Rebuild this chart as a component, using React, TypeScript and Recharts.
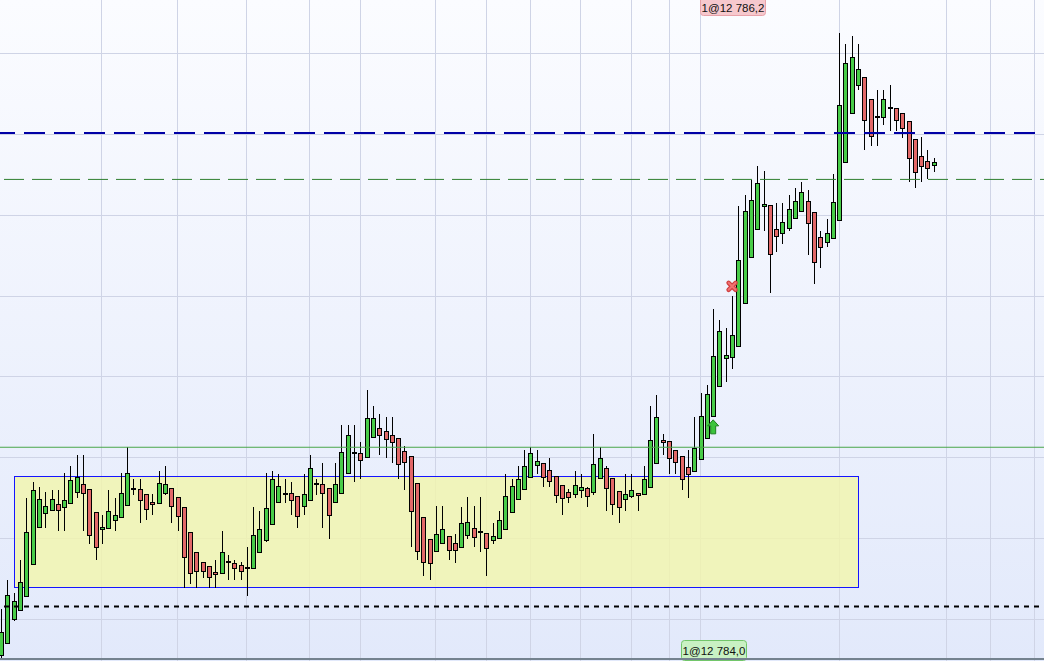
import React from 'react';
import {
  Bar,
  ComposedChart,
  ReferenceArea,
  ReferenceDot,
  ReferenceLine,
  XAxis,
  YAxis,
} from 'recharts';

// Intraday candles, prices given as offsets above 12 784,00.
const BASE = 12784;

const OPEN = [
  0.142, 0.178, 0.252, 0.28, 0.323, 0.422, 0.536, 0.579, 0.589, 0.607,
  0.598, 0.61, 0.644, 0.669, 0.653, 0.582, 0.53, 0.533, 0.558, 0.567,
  0.604, 0.653, 0.653, 0.638, 0.613, 0.61, 0.641, 0.656, 0.629, 0.598,
  0.521, 0.459, 0.428, 0.416, 0.397, 0.394, 0.428, 0.425, 0.419, 0.41,
  0.41, 0.459, 0.496, 0.545, 0.613, 0.64, 0.641, 0.632, 0.601, 0.619,
  0.669, 0.669, 0.656, 0.613, 0.641, 0.703, 0.765, 0.765, 0.752, 0.814,
  0.842, 0.832, 0.82, 0.811, 0.771, 0.755, 0.672, 0.567, 0.499, 0.462,
  0.487, 0.508, 0.487, 0.474, 0.511, 0.533, 0.521, 0.518, 0.496, 0.502,
  0.53, 0.582, 0.623, 0.653, 0.69, 0.727, 0.734, 0.712, 0.694, 0.666,
  0.644, 0.638, 0.65, 0.656, 0.644, 0.687, 0.718, 0.687, 0.647, 0.623,
  0.632, 0.641, 0.638, 0.66, 0.734, 0.805, 0.802, 0.774, 0.755, 0.721,
  0.709, 0.746, 0.811, 0.879, 0.971, 1.058, 1.061, 1.095, 1.227, 1.369,
  1.456, 1.527, 1.53, 1.456, 1.444, 1.459, 1.49, 1.514, 1.542, 1.508,
  1.431, 1.416, 1.428, 1.484, 1.663, 1.814, 1.9, 1.925, 1.857, 1.803,
  1.802, 1.829, 1.832, 1.814, 1.789, 1.734, 1.681, 1.666, 1.656,
];

const HIGH = [
  0.284, 0.373, 0.332, 0.435, 0.626, 0.675, 0.66, 0.644, 0.65, 0.65,
  0.703, 0.724, 0.758, 0.758, 0.653, 0.582, 0.573, 0.65, 0.626, 0.703,
  0.783, 0.684, 0.684, 0.638, 0.638, 0.709, 0.724, 0.656, 0.629, 0.598,
  0.521, 0.459, 0.428, 0.416, 0.434, 0.524, 0.45, 0.434, 0.428, 0.474,
  0.6, 0.587, 0.702, 0.711, 0.7, 0.684, 0.675, 0.632, 0.7, 0.758,
  0.684, 0.734, 0.656, 0.734, 0.851, 0.851, 0.851, 0.798, 0.959, 0.91,
  0.885, 0.876, 0.876, 0.811, 0.786, 0.755, 0.672, 0.567, 0.499, 0.601,
  0.601, 0.508, 0.514, 0.598, 0.629, 0.601, 0.629, 0.518, 0.548, 0.585,
  0.7, 0.684, 0.724, 0.774, 0.783, 0.774, 0.734, 0.749, 0.694, 0.666,
  0.653, 0.709, 0.7, 0.66, 0.823, 0.783, 0.724, 0.687, 0.647, 0.7,
  0.7, 0.641, 0.724, 0.91, 0.944, 0.823, 0.802, 0.774, 0.755, 0.774,
  0.876, 0.95, 0.974, 1.21, 1.175, 1.15, 1.249, 1.527, 1.561, 1.607,
  1.65, 1.635, 1.53, 1.536, 1.536, 1.561, 1.585, 1.601, 1.576, 1.508,
  1.45, 1.487, 1.626, 2.061, 2.027, 2.052, 2.027, 1.925, 1.857, 1.885,
  1.885, 1.9, 1.832, 1.814, 1.789, 1.734, 1.74, 1.7, 1.675,
];

const LOW = [
  0.133, 0.178, 0.248, 0.28, 0.323, 0.422, 0.536, 0.533, 0.585, 0.524,
  0.524, 0.61, 0.626, 0.524, 0.484, 0.434, 0.484, 0.533, 0.524, 0.567,
  0.604, 0.635, 0.548, 0.558, 0.573, 0.61, 0.635, 0.548, 0.524, 0.348,
  0.36, 0.348, 0.379, 0.348, 0.348, 0.394, 0.373, 0.373, 0.373, 0.323,
  0.41, 0.459, 0.489, 0.545, 0.613, 0.61, 0.573, 0.533, 0.573, 0.619,
  0.635, 0.533, 0.499, 0.61, 0.641, 0.703, 0.675, 0.684, 0.752, 0.814,
  0.758, 0.749, 0.734, 0.684, 0.65, 0.474, 0.434, 0.385, 0.373, 0.462,
  0.484, 0.434, 0.425, 0.474, 0.499, 0.474, 0.459, 0.385, 0.484, 0.502,
  0.53, 0.582, 0.623, 0.653, 0.69, 0.7, 0.66, 0.66, 0.61, 0.573,
  0.61, 0.626, 0.626, 0.598, 0.635, 0.687, 0.585, 0.573, 0.548, 0.585,
  0.626, 0.585, 0.638, 0.66, 0.734, 0.758, 0.7, 0.7, 0.65, 0.626,
  0.709, 0.746, 0.811, 0.879, 0.971, 0.984, 1.024, 1.095, 1.227, 1.369,
  1.456, 1.45, 1.26, 1.385, 1.41, 1.45, 1.487, 1.514, 1.376, 1.286,
  1.335, 1.4, 1.425, 1.484, 1.663, 1.814, 1.885, 1.7, 1.712, 1.712,
  1.777, 1.761, 1.761, 1.737, 1.601, 1.585, 1.601, 1.61, 1.632,
];

const CLOSE = [
  0.214, 0.327, 0.308, 0.366, 0.521, 0.65, 0.623, 0.601, 0.623, 0.589,
  0.619, 0.681, 0.69, 0.641, 0.511, 0.474, 0.536, 0.585, 0.573, 0.641,
  0.703, 0.653, 0.619, 0.592, 0.607, 0.672, 0.669, 0.601, 0.57, 0.444,
  0.394, 0.4, 0.4, 0.382, 0.391, 0.459, 0.428, 0.41, 0.4, 0.41,
  0.511, 0.53, 0.595, 0.684, 0.663, 0.64, 0.619, 0.57, 0.638, 0.718,
  0.669, 0.641, 0.573, 0.669, 0.768, 0.82, 0.765, 0.743, 0.873, 0.873,
  0.82, 0.808, 0.798, 0.731, 0.737, 0.585, 0.462, 0.428, 0.425, 0.514,
  0.53, 0.465, 0.465, 0.548, 0.552, 0.505, 0.521, 0.471, 0.508, 0.558,
  0.632, 0.663, 0.684, 0.724, 0.765, 0.74, 0.69, 0.678, 0.635, 0.626,
  0.629, 0.666, 0.66, 0.632, 0.731, 0.749, 0.656, 0.607, 0.598, 0.638,
  0.65, 0.635, 0.684, 0.805, 0.876, 0.798, 0.749, 0.737, 0.684, 0.7,
  0.78, 0.879, 0.947, 1.064, 1.141, 1.067, 1.129, 1.36, 1.511, 1.545,
  1.598, 1.533, 1.379, 1.434, 1.477, 1.518, 1.542, 1.57, 1.474, 1.354,
  1.4, 1.444, 1.539, 1.839, 1.968, 1.987, 1.95, 1.792, 1.743, 1.803,
  1.857, 1.835, 1.792, 1.768, 1.675, 1.632, 1.65, 1.644, 1.663,
];

// total bar slots on screen (the right part is still empty)
const SLOTS = 166;
// bars where a time separator is drawn
const GRID_X = [16, 28, 39, 49, 57, 69, 77, 84, 92, 100, 106, 111, 133, 150, 157, 164];
const GRID_Y = [12784.25, 12784.5, 12784.75, 12785, 12785.25, 12785.5, 12785.75, 12786];
const Y_MIN = 12784.123;
const Y_MAX = 12786.164;

// consolidation box: from bar / to bar, low / high
const ZONE_BARS = [2, 136];
const ZONE_PRICES = [12784.352, 12784.693];

const LEVEL_SUPPORT = 12784.783;
const LEVEL_TARGET = 12785.61;
const LEVEL_RESIST = 12785.753;
const LEVEL_STOP = 12784.291;

const BUY_BAR = 113;
const BUY_MARK = 12784.846;
const BUY_TEXT = '1@12 784,0';
const SELL_BAR = 116;
const SELL_MARK = 12785.28;
const SELL_TEXT = '1@12 786,2';

const rows = Array.from({ length: SLOTS }, (_, i) =>
  i < OPEN.length
    ? { i, o: BASE + OPEN[i], h: BASE + HIGH[i], l: BASE + LOW[i], c: BASE + CLOSE[i] }
    : { i },
);

const UP = '#48cc48';
const DOWN = '#e26868';
const FONT = '"Liberation Sans", Arial, sans-serif';

function Candle(props: any) {
  const { x, y, width, height, payload } = props;
  if (!payload || payload.o == null || !Number.isFinite(y) || !Number.isFinite(height)) return <g />;
  const { o, h, l, c } = payload;
  const top = Math.min(y, y + height);
  const bottom = Math.max(y, y + height);
  const py = (v: number) => (h === l ? top : top + ((h - v) / (h - l)) * (bottom - top));
  const wx = Math.round(x + width / 2) + 0.5;
  const yo = Math.round(py(o));
  const yc = Math.round(py(c));
  const bt = Math.min(yo, yc);
  const bb = Math.max(yo, yc);
  return (
    <g shapeRendering="crispEdges">
      <line x1={wx} x2={wx} y1={Math.round(top)} y2={Math.round(bottom)} stroke="#000" strokeWidth={1} />
      {bb - bt < 1 ? (
        <line x1={wx - 2.5} x2={wx + 2.5} y1={bt} y2={bt} stroke="#000" strokeWidth={2} />
      ) : (
        <rect
          x={wx - 2}
          y={bt + 0.5}
          width={4}
          height={bb - bt}
          fill={c >= o ? UP : DOWN}
          stroke="#000"
          strokeWidth={1}
        />
      )}
    </g>
  );
}

function Zone(props: any) {
  const { x, y, width, height } = props;
  const band = width / (ZONE_BARS[1] - ZONE_BARS[0] + 1);
  const x1 = Math.round(x + band / 2) + 0.5;
  const x2 = Math.round(x + width - band / 2) + 0.5;
  const y1 = Math.round(y) + 0.5;
  const y2 = Math.round(y + height) + 0.5;
  return (
    <rect
      x={x1}
      y={y1}
      width={x2 - x1}
      height={y2 - y1}
      fill="#f1f5ac"
      fillOpacity={0.82}
      stroke="#1414ff"
      strokeWidth={1}
    />
  );
}

const Cross = ({ cx, cy }: any) => {
  const d = `M${cx - 3.5},${cy - 3.5}L${cx + 3.5},${cy + 3.5}M${cx - 3.5},${cy + 3.5}L${cx + 3.5},${cy - 3.5}`;
  return (
    <g>
      <path d={d} stroke="#d04040" strokeWidth={4.5} strokeLinecap="round" fill="none" />
      <path d={d} stroke="#f07272" strokeWidth={2} strokeLinecap="round" fill="none" />
    </g>
  );
};

const Arrow = ({ cx, cy }: any) => (
  <path
    d={`M${cx},${cy - 7}L${cx + 5.5},${cy - 1}L${cx + 2.5},${cy - 1}L${cx + 2.5},${cy + 7}L${cx - 2.5},${cy + 7}L${cx - 2.5},${cy - 1}L${cx - 5.5},${cy - 1}Z`}
    fill="#3cc43c"
    stroke="#1d7f1d"
    strokeWidth={1}
  />
);

const Tag = ({ cx, cy, text, atTop, fill, stroke }: any) => {
  const bx = Math.round(cx - 32.5) + 0.5;
  const by = atTop ? cy - 4.5 : cy - 20.5;
  return (
    <g>
      <rect x={bx} y={by} width={65} height={20} rx={3} fill={fill} stroke={stroke} strokeWidth={1} />
      <text
        x={bx + 32.5}
        y={atTop ? cy + 12 : cy - 6}
        textAnchor="middle"
        fontFamily={FONT}
        fontSize={11.5}
        fill="#111"
      >
        {text}
      </text>
    </g>
  );
};

export default function App() {
  return (
    <div
      style={{
        position: 'fixed',
        left: 0,
        top: 0,
        width: 1044,
        height: 661,
        overflow: 'hidden',
        background: 'linear-gradient(#fbfcff, #e2e9fb)',
      }}
    >
      <div style={{ position: 'absolute', left: -2, top: 0 }}>
        <ComposedChart
          width={1046}
          height={661}
          data={rows}
          margin={{ top: 0, right: 0, bottom: 0, left: 0 }}
        >
          <XAxis dataKey="i" type="category" hide />
          <YAxis type="number" domain={[Y_MIN, Y_MAX]} allowDataOverflow hide />

          {GRID_Y.map((v) => (
            <ReferenceLine key={`gy${v}`} y={v} stroke="#cfd4e6" strokeWidth={1} zIndex={-100} shapeRendering="crispEdges" />
          ))}
          {GRID_X.map((v) => (
            <ReferenceLine key={`gx${v}`} x={v} stroke="#cfd4e6" strokeWidth={1} zIndex={-100} shapeRendering="crispEdges" />
          ))}

          <ReferenceArea
            x1={ZONE_BARS[0]}
            x2={ZONE_BARS[1]}
            y1={ZONE_PRICES[0]}
            y2={ZONE_PRICES[1]}
            shape={(p: any) => <Zone {...p} />}
          />

          <Bar
            dataKey={(d: any) => (d.o == null ? null : [d.l, d.h])}
            shape={(p: any) => <Candle {...p} />}
            isAnimationActive={false}
          />

          <ReferenceLine y={LEVEL_SUPPORT} stroke="#4aa64a" strokeWidth={1} />
          <ReferenceLine y={LEVEL_TARGET} stroke="#2f7f2f" strokeWidth={1} strokeDasharray="20 8" strokeDashoffset={22} />
          <ReferenceLine y={LEVEL_RESIST} stroke="#0000a6" strokeWidth={2} strokeDasharray="21 9" strokeDashoffset={4} />
          <ReferenceLine y={LEVEL_STOP} stroke="#000" strokeWidth={2} strokeDasharray="5 5" strokeDashoffset={4} />

          <ReferenceDot x={BUY_BAR} y={BUY_MARK} ifOverflow="visible" shape={(p: any) => <Arrow {...p} />} />
          <ReferenceDot x={SELL_BAR} y={SELL_MARK} ifOverflow="visible" shape={(p: any) => <Cross {...p} />} />
          <ReferenceDot
            x={SELL_BAR}
            y={Y_MAX}
            ifOverflow="visible"
            shape={(p: any) => <Tag {...p} text={SELL_TEXT} atTop fill="#f6c8cd" stroke="#e8a2aa" />}
          />
          <ReferenceDot
            x={BUY_BAR}
            y={Y_MIN}
            ifOverflow="visible"
            shape={(p: any) => <Tag {...p} text={BUY_TEXT} atTop={false} fill="#c9f1c3" stroke="#72c66a" />}
          />
        </ComposedChart>
      </div>
      <div style={{ position: 'absolute', left: 0, top: 658, width: 1044, height: 2, background: '#74828f' }} />
    </div>
  );
}
